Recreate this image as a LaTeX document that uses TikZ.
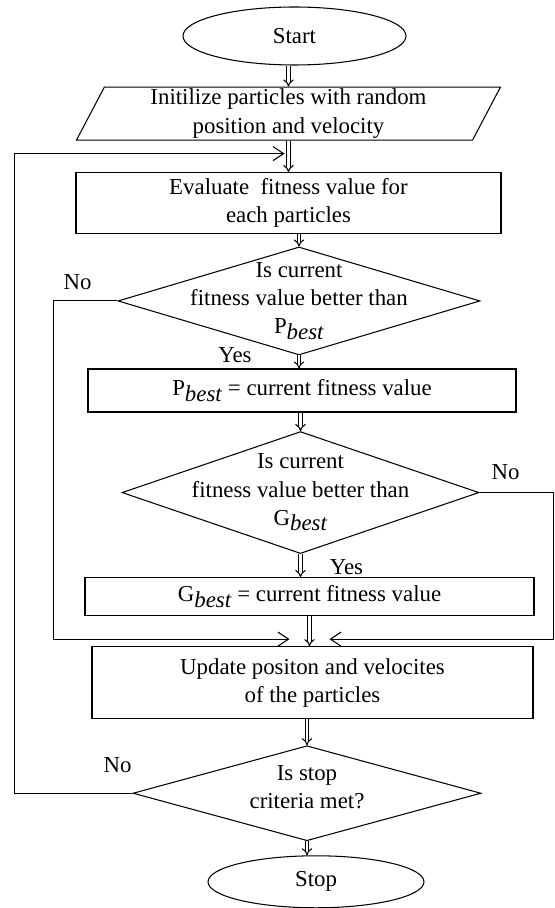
\documentclass[tikz,border=0pt]{standalone}
\usepackage{fontspec}
\setmainfont{Liberation Serif}
\usetikzlibrary{positioning,shapes.geometric,arrows.meta}
\newcommand{\bestsub}{\raisebox{-0.55ex}{\textit{best}}}

\begin{document}
\begin{tikzpicture}[
    font=\fontsize{13}{16}\selectfont,
    line width=0.6pt,
    terminal/.style={
        draw,
        ellipse,
        minimum width=4.46cm,
        minimum height=1.16cm
    },
    io/.style={
        draw,
        trapezium,
        trapezium stretches=true,
        trapezium left angle=68,
        trapezium right angle=112,
        minimum width=8.5cm,
        minimum height=1.06cm,
        inner sep=1pt,
        align=center
    },
    process/.style={draw, rectangle, align=center},
    decision/.style={draw, diamond, inner sep=0pt},
    dtext/.style={align=center, inner sep=0pt},
    lbl/.style={inner sep=1pt},
    flow/.style={double, double distance=1.4pt, -{Implies}},
    rail/.style={-{Straight Barb[length=6pt,width=8pt]}}
]

\useasboundingbox (-5.89,0.72) rectangle (5.19,-17.44);

% ============================================================
% MAIN COLUMN
% ============================================================
\node[terminal] (start) {Start};
\node[io, below=0.42cm of start, xshift=-0.12cm] (init) {Initilize particles with random\\position and velocity};
\node[process, minimum width=8.5cm, minimum height=1.18cm, below=0.63cm of init] (eval) {Evaluate\ \ fitness value for\\each particles};
\node[decision, minimum width=7.24cm, minimum height=2.16cm, below=0.25cm of eval, xshift=0.21cm] (dec1) {};
\node[dtext] (dec1txt) at (dec1) {Is current\\fitness value better than\\P\bestsub};
\node[process, minimum width=8.56cm, minimum height=0.86cm, below=0.26cm of dec1, xshift=0.06cm] (pbest) {P\bestsub{} = current fitness value};
\node[decision, minimum width=7.14cm, minimum height=2.44cm, below=0.37cm of pbest, xshift=-0.03cm] (dec2) {};
\node[dtext] (dec2txt) at (dec2) {Is current\\fitness value better than\\G\bestsub};
\node[process, minimum width=8.98cm, minimum height=0.76cm, below=0.46cm of dec2, xshift=0.18cm] (gbest) {G\bestsub{} = current fitness value};
\node[process, minimum width=8.82cm, minimum height=1.44cm, below=0.6cm of gbest, xshift=0.06cm] (update) {Update positon and velocites\\of the particles};
\node[decision, minimum width=6.96cm, minimum height=1.9cm, below=0.52cm of update, xshift=-0.11cm] (dec3) {};
\node[dtext] (dec3txt) at ([yshift=0.12cm]dec3) {Is stop\\criteria met?};
\node[terminal, minimum width=4.32cm, minimum height=1.04cm, below=0.28cm of dec3, xshift=0.18cm] (stop) {Stop};

\draw[flow] (start.south -| init.north) -- (init.north);
\draw[flow] (init.south) -- (eval.north);
\draw[flow] (eval.south -| dec1.north) -- (dec1.north);
\draw[flow] (dec1.south) -- (dec1.south |- pbest.north);
\draw[flow] (pbest.south -| dec2.north) -- (dec2.north);
\draw[flow] (dec2.south) -- (dec2.south |- gbest.north);
\draw[flow] (gbest.south) -- (gbest.south |- update.north);
\draw[flow] (update.south -| dec3.north) -- (dec3.north);
\draw[flow] (dec3.south) -- (dec3.south |- stop.north);

% ============================================================
% YES / NO
% ============================================================
\node[lbl] (no1) at ([xshift=-0.8cm, yshift=0.38cm]dec1.west) {No};
\node[lbl] (yes1) at ([xshift=-1.28cm]dec1.south) {Yes};
\node[lbl] (no2) at ([xshift=0.52cm, yshift=0.4cm]dec2.east) {No};
\node[lbl] (yes2) at ([xshift=0.92cm, yshift=-0.26cm]dec2.south) {Yes};
\node[lbl] (no3) at ([xshift=-0.3cm, yshift=0.56cm]dec3.west) {No};

% ============================================================
% RETURN LINES
% ============================================================
\coordinate[below=0.26cm of init.south, xshift=-0.08cm] (loopin);
\coordinate[below=0.46cm of gbest.south, xshift=-0.4cm] (mergeL);
\coordinate[below=0.46cm of gbest.south, xshift=0.4cm] (mergeR);

\draw[rail] (dec1.west) -- ++(-1.28,0) |- (mergeL);
\draw[rail] (dec2.east) -- ++(1.48,0) |- (mergeR);
\draw[rail] (dec3.west) -- ++(-2.36,0) |- (loopin);

\end{tikzpicture}
\end{document}
